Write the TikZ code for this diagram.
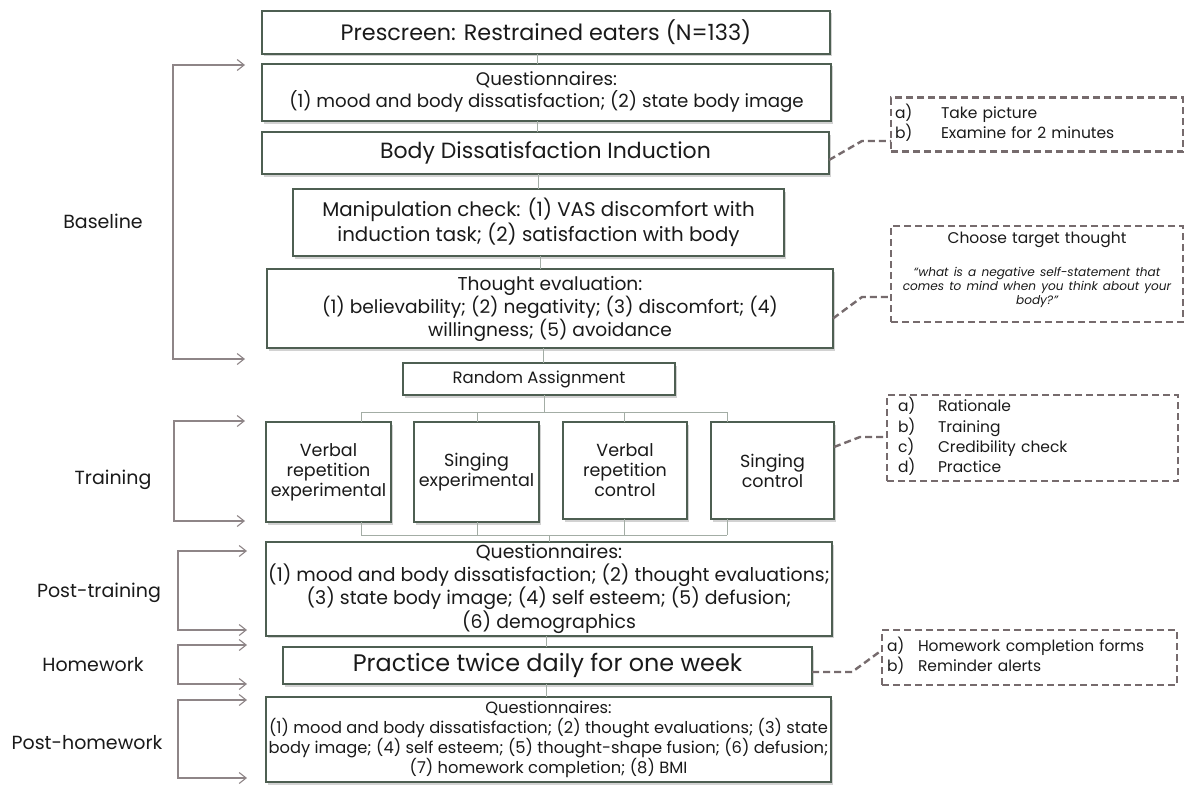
\documentclass[tikz,border=0pt]{standalone}
\usepackage{fontspec}
\setmainfont{Poppins}
\usetikzlibrary{arrows.meta,shadows,calc}
\definecolor{boxline}{HTML}{4E5F52}
\definecolor{linkc}{HTML}{A3ADA5}
\definecolor{brk}{HTML}{8E8587}
\definecolor{dashc}{HTML}{766B6D}
\definecolor{txt}{HTML}{1A1A1A}
\begin{document}
\begin{tikzpicture}[x=1pt,y=-1pt,
  mainbox/.style={draw=boxline, line width=1.8pt, fill=white, rectangle,
    inner sep=2pt, outer sep=0pt, align=center, text=txt,
    drop shadow={shadow xshift=1.5pt, shadow yshift=-2.5pt, opacity=0.35}},
  dbox/.style={draw=dashc, line width=2.4pt, dash pattern=on 7pt off 4pt,
    rectangle, inner ysep=0pt, outer sep=0pt, text=txt},
  dlink/.style={draw=dashc, line width=2.4pt, dash pattern=on 7pt off 4pt},
  link/.style={draw=linkc, line width=1pt},
  bracket/.style={draw=brk, line width=1.1pt,
    {Straight Barb[length=7pt,width=11pt]}-{Straight Barb[length=7pt,width=11pt]}},
  lab/.style={text=txt, font=\fontsize{19}{23}\selectfont}
]
\useasboundingbox[fill=white] (0,0) rectangle (1188,784);

% ---------- main column ----------
\node[mainbox, minimum width=568pt, minimum height=43pt, font=\fontsize{22.3}{26}\selectfont] (pre) at (546,32.5)
  {Prescreen: Restrained eaters (N=133)};
\node[mainbox, minimum width=569pt, minimum height=57pt, font=\fontsize{18.2}{22}\selectfont] (q1) at (546.5,92.5)
  {Questionnaires:\\(1) mood and body dissatisfaction; (2) state body image};
\node[mainbox, minimum width=567pt, minimum height=42pt, font=\fontsize{22}{26}\selectfont] (bdi) at (545.5,153)
  {Body Dissatisfaction Induction};
\node[mainbox, minimum width=491pt, minimum height=67pt, font=\fontsize{19.8}{23}\selectfont] (man) at (538.5,222.5)
  {Manipulation check: (1) VAS discomfort with\\induction task; (2) satisfaction with body};
\node[mainbox, minimum width=566pt, minimum height=79pt, font=\fontsize{18.6}{23}\selectfont] (tev) at (550,308.5)
  {Thought evaluation:\\(1) believability; (2) negativity; (3) discomfort; (4)\\willingness; (5) avoidance};
\node[mainbox, minimum width=272pt, minimum height=32pt, font=\fontsize{16.5}{20}\selectfont] (rand) at (539,379)
  {Random Assignment};

\node[mainbox, minimum width=125pt, minimum height=100pt, font=\fontsize{17.5}{20}\selectfont] (t1) at (328.5,472)
  {Verbal\\repetition\\experimental};
\node[mainbox, minimum width=125pt, minimum height=100pt, font=\fontsize{17.5}{20}\selectfont] (t2) at (476.5,472)
  {Singing\\experimental};
\node[mainbox, minimum width=124pt, minimum height=97pt, font=\fontsize{17.5}{20}\selectfont] (t3) at (625,470.5)
  {Verbal\\repetition\\control};
\node[mainbox, minimum width=123pt, minimum height=97pt, font=\fontsize{17.5}{20}\selectfont] (t4) at (772.5,470.5)
  {Singing\\control};

\node[mainbox, minimum width=566pt, minimum height=90pt, font=\fontsize{18.9}{22.5}\selectfont] (pt) at (549,589)
  {Questionnaires:\\(1) mood and body dissatisfaction; (2) thought evaluations;\\(3) state body image; (4) self esteem; (5) defusion;\\(6) demographics};
\node[mainbox, minimum width=529pt, minimum height=37pt, font=\fontsize{23.9}{27}\selectfont] (hw) at (547.5,665.5)
  {Practice twice daily for one week};
\node[mainbox, minimum width=565pt, minimum height=85pt, font=\fontsize{16.3}{20}\selectfont] (ph) at (548.5,739.5)
  {Questionnaires:\\(1) mood and body dissatisfaction; (2) thought evaluations; (3) state\\body image; (4) self esteem; (5) thought-shape fusion; (6) defusion;\\(7) homework completion; (8) BMI};

% ---------- column connectors ----------
\draw[link] ([xshift=-9pt]pre.south) -- ([xshift=-9pt]pre.south |- q1.north);
\draw[link] ([xshift=-9.5pt]q1.south) -- ([xshift=-9.5pt]q1.south |- bdi.north);
\draw[link] ([xshift=-7.5pt]bdi.south) -- ([xshift=-7.5pt]bdi.south |- man.north);
\draw[link] ([xshift=1.5pt]man.south) -- ([xshift=1.5pt]man.south |- tev.north);
\draw[link] ([xshift=-7pt]tev.south) -- ([xshift=-7pt]tev.south |- rand.north);

\coordinate (sT) at (544,412);
\coordinate (d1) at (361,412);
\coordinate (d2) at (477,412);
\coordinate (d3) at (624,412);
\coordinate (d4) at (727,412);
\draw[link] (rand.south -| sT) -- (sT);
\draw[link] (d1) -- (d4);
\draw[link] (d1) -- (d1 |- t1.north);
\draw[link] (d2) -- (d2 |- t2.north);
\draw[link] (d3) -- (d3 |- t3.north);
\draw[link] (d4) -- (d4 |- t4.north);

\coordinate (sB) at (549,535);
\coordinate (e1) at (361,535);
\coordinate (e2) at (477,535);
\coordinate (e3) at (624,535);
\coordinate (e4) at (727,535);
\draw[link] (e1 |- t1.south) -- (e1);
\draw[link] (e2 |- t2.south) -- (e2);
\draw[link] (e3 |- t3.south) -- (e3);
\draw[link] (e4 |- t4.south) -- (e4);
\draw[link] (e1) -- (e4);
\draw[link] (sB) -- (sB |- pt.north);

\draw[link] ([xshift=-3pt]pt.south) -- ([xshift=-3pt]pt.south |- hw.north);
\draw[link] ([xshift=-1.5pt]hw.south) -- ([xshift=-1.5pt]hw.south |- ph.north);

% ---------- phase labels and brackets ----------
\node[lab] (lbase) at (103,221) {Baseline};
\node[lab] (ltrain) at (113,480) {Training};
\node[lab] (lpost) at (99,593) {Post-training};
\node[lab] (lhw) at (93,665) {Homework};
\node[lab] (lph) at (87,743) {Post-homework};

\coordinate (b1t) at (245,65);  \coordinate (b1b) at (245,359);
\coordinate (b2t) at (245,421); \coordinate (b2b) at (245,521);
\coordinate (b3t) at (247,551); \coordinate (b3b) at (247,630);
\coordinate (b4t) at (247,645); \coordinate (b4b) at (247,684);
\coordinate (b5t) at (247,700); \coordinate (b5b) at (247,778);
\draw[bracket] (b1t) -- ++(-72,0) |- (b1b);
\draw[bracket] (b2t) -- ++(-71,0) |- (b2b);
\draw[bracket] (b3t) -- ++(-69,0) |- (b3b);
\draw[bracket] (b4t) -- ++(-69,0) |- (b4b);
\draw[bracket] (b5t) -- ++(-69,0) |- (b5b);

% ---------- dashed side boxes ----------
\node[dbox, minimum width=292pt, minimum height=54pt, inner xsep=4pt, text width=284pt, align=left,
  font=\fontsize{15.5}{19}\selectfont] (bA) at (1037,124.5)
  {\begin{tabular}{@{}p{46pt}@{}l@{}}a)&Take picture\\b)&Examine for 2 minutes\end{tabular}};
\node[dbox, minimum width=292pt, minimum height=96pt, inner xsep=4pt, text width=284pt, align=center,
  font=\fontsize{15.5}{19}\selectfont] (bB) at (1037,274)
  {Choose target thought\\[14pt]\parbox[t]{284pt}{\centering\itshape\fontsize{12.1}{14}\selectfont
   “what is a negative self-statement that\\comes to mind when you think about your\\body?”\rule[-11pt]{0pt}{1pt}}};
\node[dbox, minimum width=291pt, minimum height=86pt, inner xsep=11pt, text width=269pt, align=left,
  font=\fontsize{15.5}{19.3}\selectfont] (bC) at (1032.5,438)
  {\begin{tabular}{@{}p{40pt}@{}l@{}}a)&Rationale\\b)&Training\\c)&Credibility check\\d)&Practice\end{tabular}};
\node[dbox, minimum width=295pt, minimum height=55pt, inner xsep=5pt, text width=285pt, align=left,
  font=\fontsize{15.5}{19}\selectfont] (bD) at (1029.5,657.5)
  {\begin{tabular}{@{}p{31pt}@{}l@{}}a)&Homework completion forms\\b)&Reminder alerts\end{tabular}};

\coordinate (cA) at (862,141);
\coordinate (cB) at (862,297);
\coordinate (cC) at (860,437);
\coordinate (cD) at (852,672);
\draw[dlink] ([yshift=-7pt]bdi.east) -- (cA) -- (bA.west |- cA);
\draw[dlink] ([yshift=-10pt]tev.east) -- (cB) -- (bB.west |- cB);
\draw[dlink] ([yshift=23.5pt]t4.east) -- (cC) -- (bC.west |- cC);
\draw[dlink] ([yshift=-6.5pt]hw.east) -- (cD) -- ([yshift=7.5pt]bD.west);
\end{tikzpicture}
\end{document}
